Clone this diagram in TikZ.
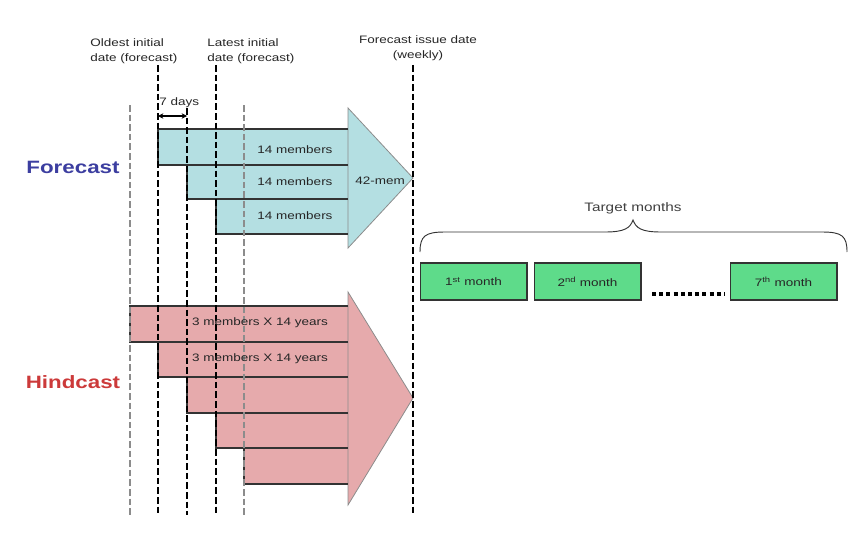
\documentclass[tikz,border=0pt]{standalone}
\usepackage{fontspec}
\setmainfont[FakeStretch=1.25]{Liberation Sans}
\usetikzlibrary{arrows.meta,positioning}
\definecolor{fccyan}{RGB}{180,223,226}
\definecolor{hcpink}{RGB}{230,170,172}
\definecolor{mgreen}{RGB}{94,219,138}
\definecolor{fcblue}{RGB}{60,62,160}
\definecolor{hcred}{RGB}{204,58,58}
\tikzset{
 small/.style={font=\fontsize{8.1}{11.5}\selectfont, text=black!85, inner sep=0pt},
 big/.style={font=\fontsize{13.4}{15}\selectfont\bfseries, inner sep=0pt},
 barline/.style={draw=black!80, line width=0.9pt},
 headline/.style={draw=black!45, line width=0.6pt},
 dateline/.style={black, line width=1.4pt, dash pattern=on 5pt off 2.2pt},
 greyline/.style={black!45, line width=1.6pt, dash pattern=on 5pt off 2.2pt},
 month/.style={small, draw=black!80, line width=1pt, fill=mgreen, minimum width=80pt, minimum height=27.75pt},
}
\begin{document}
\begin{tikzpicture}[x=0.75pt,y=-0.75pt]
\useasboundingbox (0,0) rectangle (862,542);
% forecast arrow
\fill[fccyan] (158,129) rectangle (348,165) (187,165) rectangle (348,199) (216,199) rectangle (348,234);
\filldraw[fill=fccyan, headline] (348,108) -- (413,178) -- (348,248) -- cycle;
\draw[barline] (348,129) -| (158,165) -- (348,165);
\draw[barline] (348,165) -| (187,199) -- (348,199);
\draw[barline] (348,199) -| (216,234) -- (348,234);
% hindcast arrow
\fill[hcpink] (130,306) rectangle (348,342) (158,342) rectangle (348,377) (187,377) rectangle (348,413)
 (216,413) rectangle (348,448) (244,448) rectangle (348,484);
\filldraw[fill=hcpink, headline] (348,292) -- (413,398) -- (348,505) -- cycle;
\draw[barline] (348,306) -| (130,342) -- (348,342);
\draw[barline] (348,342) -| (158,377) -- (348,377);
\draw[barline] (348,377) -| (187,413) -- (348,413);
\draw[barline] (348,413) -| (216,448) -- (348,448);
\draw[barline] (348,448) -| (244,484) -- (348,484);
% date lines
\draw[greyline] (130,105) -- (130,515);
\draw[dateline] (158,65) -- (158,515);
\draw[dateline] (187,108) -- (187,515);
\draw[dateline] (216,65) -- (216,515);
\draw[greyline] (244,105) -- (244,515);
\draw[dateline] (413,65) -- (413,515);

\node[small, align=left, anchor=west] (oldest) at (90,51) {Oldest initial\\date (forecast)};
\node[small, align=left, anchor=west] (latest) at (207,51) {Latest initial\\date (forecast)};
\node[small, align=center] (issue) at (418,48) {Forecast issue date\\(weekly)};

\node[small, anchor=west] (sevendays) at (159,103) {7 days};
\coordinate (d1) at (158,116);
\coordinate (d2) at (187,116);
\draw[{Stealth[length=4pt,width=4pt]}-{Stealth[length=4pt,width=4pt]}, line width=0.8pt] (d1) -- (d2);

\node[big, text=fcblue] (fclabel) at (73,167) {Forecast};
\node[big, text=hcred] (hclabel) at (73,382) {Hindcast};

\node[small] (fmem1) at (295,150) {14 members};
\node[small] (fmem2) at (295,182) {14 members};
\node[small] (fmem3) at (295,216) {14 members};
\node[small] (fall) at (380,181) {42-mem};
\node[small] (hmem1) at (260,323) {3 members X 14 years};
\node[small] (hmem2) at (260,359) {3 members X 14 years};

% target months
\node[font=\fontsize{9.2}{11}\selectfont, text=black!75, inner sep=0pt] (target) at (633,208) {Target months};
\draw[black!80, line width=0.7pt] (420,252) .. controls (420,236) and (425,232) .. (445,232) -- (605,232)
 .. controls (625,232) and (630,228) .. (633,220) .. controls (636,228) and (641,232) .. (661,232)
 -- (822,232) .. controls (842,232) and (847,236) .. (847,252);
\node[month] (m1) at (473.5,281.5) {1\textsuperscript{st} month};
\node[month, right=4.5pt of m1] (m2) {2\textsuperscript{nd} month};
\node[month] (m7) at (783.5,281.5) {7\textsuperscript{th} month};
\coordinate (dots1) at (652,294);
\coordinate (dots2) at (725,294);
\draw[black, line width=3.2pt, dash pattern=on 3pt off 2.4pt] (dots1) -- (dots2);
\end{tikzpicture}
\end{document}
